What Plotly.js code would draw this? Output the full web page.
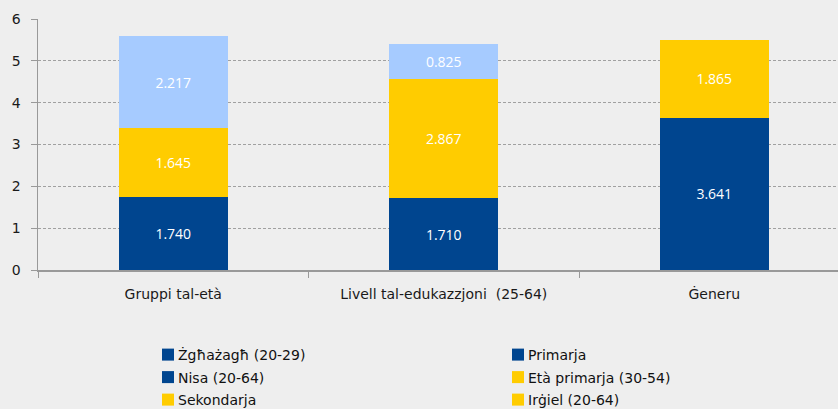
<!DOCTYPE html>
<html>
<head>
<meta charset="utf-8">
<script src="https://cdn.plot.ly/plotly-3.0.1.min.js"></script>
<style>
html, body { margin: 0; padding: 0; overflow: hidden; background: #eeeeee; }
#chart { width: 838px; height: 440px; }
/* tighten the gap between legend swatch and its label, as in the original */
#chart .legendtext, #chart .legend2text, #chart g.traces > text { transform: translateX(-10px); }
</style>
</head>
<body>
<div id="chart"></div>
<script>
// Categories
const categories = ['Gruppi tal-età', 'Livell tal-edukazzjoni \u00a0(25-64)', 'Ġeneru'];

// Series values (one value per category, null where the series is absent)
const zghazagh   = [1.740, null, null];   // Żgħażagħ (20-29)
const primarja   = [null, 1.710, null];   // Primarja
const nisa       = [null, null, 3.641];   // Nisa (20-64)
const etaPrim    = [1.645, null, null];   // Età primarja (30-54)
const sekondarja = [null, 2.867, null];   // Sekondarja
const irgiel     = [null, null, 1.865];   // Irġiel (20-64)
const anzjani    = [2.217, null, null];   // Anzjani (55-64)
const terzjarja  = [null, 0.825, null];   // Terzjarja

const yTicks = [0, 1, 2, 3, 4, 5, 6];

const DARK = '#00458f', YEL = '#ffcc00', LIGHT = '#a6cbff';
const FONT = '"DejaVu Sans", Verdana, sans-serif';
const BARFONT = '"Open Sans", "Noto Sans", sans-serif';

function bar(name, vals, color, legend) {
  return {
    type: 'bar', name: name, x: categories, y: vals,
    marker: { color: color, line: { width: 0 } },
    width: 0.403,
    texttemplate: '%{y:.3f}', textposition: 'inside', insidetextanchor: 'middle',
    textangle: 0, constraintext: 'none',
    textfont: { color: '#ffffff', size: 14, family: BARFONT },
    legend: legend, legendgroup: name, hoverinfo: 'none'
  };
}

const data = [
  bar('Żgħażagħ (20-29)', zghazagh, DARK, 'legend'),
  bar('Primarja', primarja, DARK, 'legend2'),
  bar('Nisa (20-64)', nisa, DARK, 'legend'),
  bar('Età primarja (30-54)', etaPrim, YEL, 'legend2'),
  bar('Sekondarja', sekondarja, YEL, 'legend'),
  bar('Irġiel (20-64)', irgiel, YEL, 'legend2'),
  bar('Anzjani (55-64)', anzjani, LIGHT, 'legend'),
  bar('Terzjarja', terzjarja, LIGHT, 'legend2')
];

const H = 440;
const legFont = { family: FONT, size: 14, color: '#111111' };

const layout = {
  width: 838, height: H,
  margin: { l: 38, r: 0, t: 19, b: H - 270, pad: 0, autoexpand: false },
  paper_bgcolor: '#eeeeee', plot_bgcolor: '#eeeeee',
  barmode: 'stack',
  font: { family: FONT, size: 14, color: '#222222' },
  xaxis: {
    type: 'category', range: [-0.5, 2.4575],
    showline: true, linecolor: '#999999', linewidth: 1.5,
    ticks: 'outside', tickson: 'boundaries', ticklen: 6, tickcolor: '#999999', tickwidth: 1,
    showgrid: false, zeroline: false, tickangle: 0, automargin: false,
    tickfont: { size: 14, color: '#1a1a1a', family: FONT },
    ticklabelstandoff: 11,
    fixedrange: true
  },
  yaxis: {
    range: [0, 6], tickvals: yTicks, ticktext: yTicks.map(String),
    showline: true, linecolor: '#999999', linewidth: 1.5,
    ticks: 'outside', ticklen: 6, tickcolor: '#999999', tickwidth: 1,
    showgrid: true, gridcolor: '#a0a0a0', griddash: '3px,2px', gridwidth: 1,
    zeroline: false, automargin: false,
    tickfont: { size: 14, color: '#1a1a1a', family: FONT },
    ticklabelstandoff: 7,
    fixedrange: true
  },
  legend: {
    xref: 'container', yref: 'container',
    x: 148 / 838, y: 1 - 339 / H, xanchor: 'left', yanchor: 'top',
    orientation: 'v', traceorder: 'grouped', bgcolor: 'rgba(0,0,0,0)',
    font: legFont, tracegroupgap: 1.3, maxheight: 1000
  },
  legend2: {
    xref: 'container', yref: 'container',
    x: 498 / 838, y: 1 - 339 / H, xanchor: 'left', yanchor: 'top',
    orientation: 'v', traceorder: 'grouped', bgcolor: 'rgba(0,0,0,0)',
    font: legFont, tracegroupgap: 1.3, maxheight: 1000
  },
  showlegend: true
};

Plotly.newPlot('chart', data, layout, { displayModeBar: false, staticPlot: true });
</script>
</body>
</html>
